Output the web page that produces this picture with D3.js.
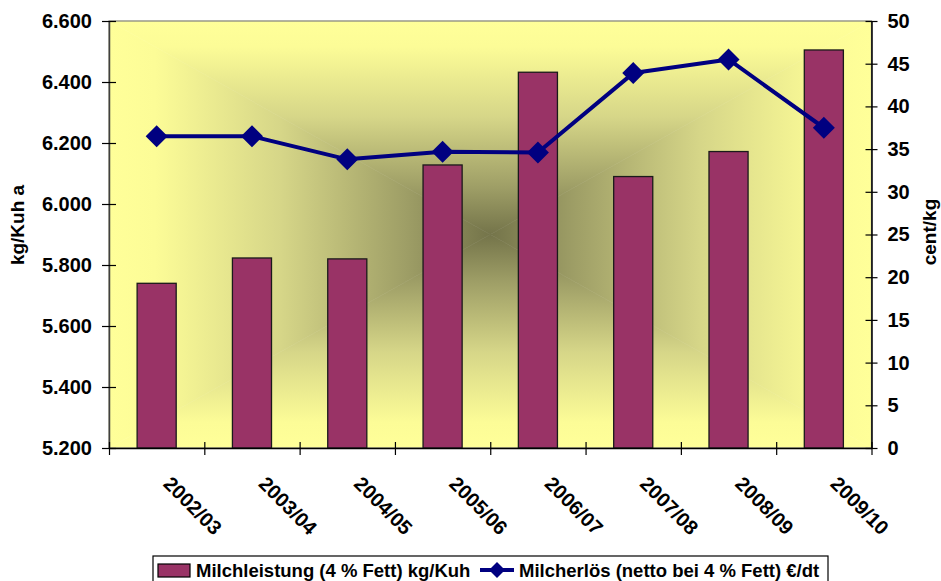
<!DOCTYPE html>
<html>
<head>
<meta charset="utf-8">
<script src="https://cdn.jsdelivr.net/npm/d3@7"></script>
<style>
  html, body { margin: 0; padding: 0; background: #ffffff; }
  svg { display: block; font-family: "Liberation Sans", Arial, sans-serif; font-weight: bold; }
</style>
</head>
<body>
<svg id="chart" width="941" height="581"></svg>
<script>
// ---- data ----
const categories = ["2002/03", "2003/04", "2004/05", "2005/06", "2006/07", "2007/08", "2008/09", "2009/10"];
const milchleistung = [5740, 5823, 5820, 6128, 6432, 6090, 6172, 6505];   // kg/Kuh (bars, left axis)
const milcherloes = [36.5, 36.5, 33.8, 34.7, 34.6, 43.9, 45.5, 37.5];      // cent/kg (line, right axis)
const leftTicks = [5200, 5400, 5600, 5800, 6000, 6200, 6400, 6600];
const rightTicks = [0, 5, 10, 15, 20, 25, 30, 35, 40, 45, 50];
const seriesNames = ["Milchleistung (4 % Fett) kg/Kuh", "Milcherlös (netto bei 4 % Fett) €/dt"];
const axisTitles = ["kg/Kuh a", "cent/kg"];

// ---- layout ----
const plot = { left: 109, right: 871.5, top: 21, bottom: 448 };
const barColor = "#993366";
const lineColor = "#000080";

const de = d3.formatLocale({ decimal: ",", thousands: ".", grouping: [3], currency: ["", " €"] });
const fmtL = de.format(",.0f");

const svg = d3.select("#chart");

const x = d3.scaleBand().domain(categories).range([plot.left, plot.right]).paddingInner(0).paddingOuter(0);
const yL = d3.scaleLinear().domain([5200, 6600]).range([plot.bottom, plot.top]);
const yR = d3.scaleLinear().domain([0, 50]).range([plot.bottom, plot.top]);

// ---- background: "from center" rectangular gradient ----
const defs = svg.append("defs");
const stops = [
  [0, "#FFFF99"], [0.12, "#FCFC97"], [0.45, "#D6D688"], [0.78, "#9E9E66"], [1, "#74744A"]
];
const grads = {
  top: { x1: 0, y1: 0, x2: 0, y2: 1 },
  bottom: { x1: 0, y1: 1, x2: 0, y2: 0 },
  left: { x1: 0, y1: 0, x2: 1, y2: 0 },
  right: { x1: 1, y1: 0, x2: 0, y2: 0 }
};
Object.entries(grads).forEach(([k, g]) => {
  const lg = defs.append("linearGradient").attr("id", "g_" + k)
    .attr("x1", g.x1).attr("y1", g.y1).attr("x2", g.x2).attr("y2", g.y2);
  stops.forEach(s => lg.append("stop").attr("offset", s[0]).attr("stop-color", s[1]));
});
const cx = (plot.left + plot.right) / 2, cy = (plot.top + plot.bottom) / 2;
const L = plot.left, R = plot.right, T = plot.top, B = plot.bottom;
const tris = {
  top: [[L, T], [R, T], [cx, cy]],
  bottom: [[L, B], [R, B], [cx, cy]],
  left: [[L, T], [L, B], [cx, cy]],
  right: [[R, T], [R, B], [cx, cy]]
};
const bg = svg.append("g");
Object.entries(tris).forEach(([k, pts]) => {
  bg.append("polygon").attr("points", pts.map(p => p.join(",")).join(" "))
    .attr("fill", "url(#g_" + k + ")").attr("stroke", "url(#g_" + k + ")").attr("stroke-width", 0.6);
});
// plot border
svg.append("rect").attr("x", L).attr("y", T).attr("width", R - L).attr("height", B - T)
  .attr("fill", "none").attr("stroke", "#808080").attr("stroke-width", 1.2);

// ---- bars ----
const barW = x.bandwidth() * 0.41;
svg.append("g").selectAll("rect").data(categories).join("rect")
  .attr("x", (d, i) => x(d) + x.bandwidth() / 2 - barW / 2)
  .attr("y", (d, i) => yL(milchleistung[i]))
  .attr("width", barW)
  .attr("height", (d, i) => yL(5200) - yL(milchleistung[i]))
  .attr("fill", barColor)
  .attr("stroke", "#1a1a1a").attr("stroke-width", 1.3);

// ---- axes ----
const axL = svg.append("g").attr("transform", `translate(${plot.left},0)`)
  .call(d3.axisLeft(yL).tickValues(leftTicks).tickFormat(fmtL).tickSizeInner(7).tickSizeOuter(0).tickPadding(10));
axL.select(".domain").attr("stroke", "#404040").attr("stroke-width", 1.5);
axL.selectAll(".tick line").attr("x1", 7).attr("stroke", "#000").attr("stroke-width", 1.2);
axL.selectAll(".tick text").attr("font-size", 20).attr("font-weight", "bold").attr("fill", "#000")
  .attr("font-family", "'Liberation Sans', Arial, sans-serif");

const axR = svg.append("g").attr("transform", `translate(${plot.right},0)`)
  .call(d3.axisRight(yR).tickValues(rightTicks).tickFormat(d3.format("d")).tickSizeInner(6).tickSizeOuter(0).tickPadding(10));
axR.select(".domain").attr("stroke", "#000").attr("stroke-width", 1.5);
axR.selectAll(".tick line").attr("x1", -6).attr("stroke", "#000").attr("stroke-width", 1.2);
axR.selectAll(".tick text").attr("font-size", 20).attr("font-weight", "bold").attr("fill", "#000")
  .attr("font-family", "'Liberation Sans', Arial, sans-serif");

// bottom axis: category separators
const bounds = categories.map(c => x(c)).concat([x.range()[1]]);
const xEdge = d3.scaleLinear().domain([0, categories.length]).range(x.range());
const axB = svg.append("g").attr("transform", `translate(0,${plot.bottom})`)
  .call(d3.axisBottom(xEdge).tickValues(d3.range(categories.length + 1)).tickFormat("").tickSizeInner(7).tickSizeOuter(0));
axB.select(".domain").attr("stroke", "#000").attr("stroke-width", 1.5);
axB.selectAll(".tick line").attr("y1", -6).attr("stroke", "#000").attr("stroke-width", 1.2);

// category labels, rotated
svg.append("g").selectAll("text").data(categories).join("text")
  .attr("transform", d => `translate(${x(d) + x.bandwidth() / 2 + 5.5},485) rotate(45)`)
  .attr("text-anchor", "start")
  .attr("font-size", 20).attr("fill", "#000")
  .text(d => d);

// axis titles
svg.append("text").attr("transform", "translate(24,225) rotate(-90)")
  .attr("text-anchor", "middle").attr("font-size", 19).attr("fill", "#000").text(axisTitles[0]);
svg.append("text").attr("transform", "translate(936,232) rotate(-90)")
  .attr("text-anchor", "middle").attr("font-size", 19).attr("fill", "#000").text(axisTitles[1]);

// ---- line ----
const line = d3.line().x((d, i) => x(categories[i]) + x.bandwidth() / 2).y(d => yR(d));
svg.append("path").datum(milcherloes).attr("d", line)
  .attr("fill", "none").attr("stroke", lineColor).attr("stroke-width", 4).attr("stroke-linejoin", "round");
const dia = 11;
svg.append("g").selectAll("path").data(milcherloes).join("path")
  .attr("d", (d, i) => {
    const px = x(categories[i]) + x.bandwidth() / 2, py = yR(d);
    return `M${px - dia},${py}L${px},${py - dia}L${px + dia},${py}L${px},${py + dia}Z`;
  })
  .attr("fill", lineColor);

// ---- legend ----
const lg = svg.append("g");
lg.append("rect").attr("x", 153).attr("y", 556).attr("width", 675).attr("height", 40)
  .attr("fill", "#fff").attr("stroke", "#000").attr("stroke-width", 1.2);
lg.append("rect").attr("x", 158).attr("y", 564).attr("width", 32).attr("height", 13)
  .attr("fill", barColor).attr("stroke", "#000").attr("stroke-width", 1.2);
lg.append("text").attr("x", 196).attr("y", 577).attr("font-size", 18.5).attr("fill", "#000").text(seriesNames[0]);
lg.append("line").attr("x1", 480).attr("x2", 514).attr("y1", 570).attr("y2", 570)
  .attr("stroke", lineColor).attr("stroke-width", 4);
lg.append("path").attr("d", "M489,570L497,562L505,570L497,578Z").attr("fill", lineColor);
lg.append("text").attr("x", 519).attr("y", 577).attr("font-size", 18.5).attr("fill", "#000").text(seriesNames[1]);
</script>
</body>
</html>
